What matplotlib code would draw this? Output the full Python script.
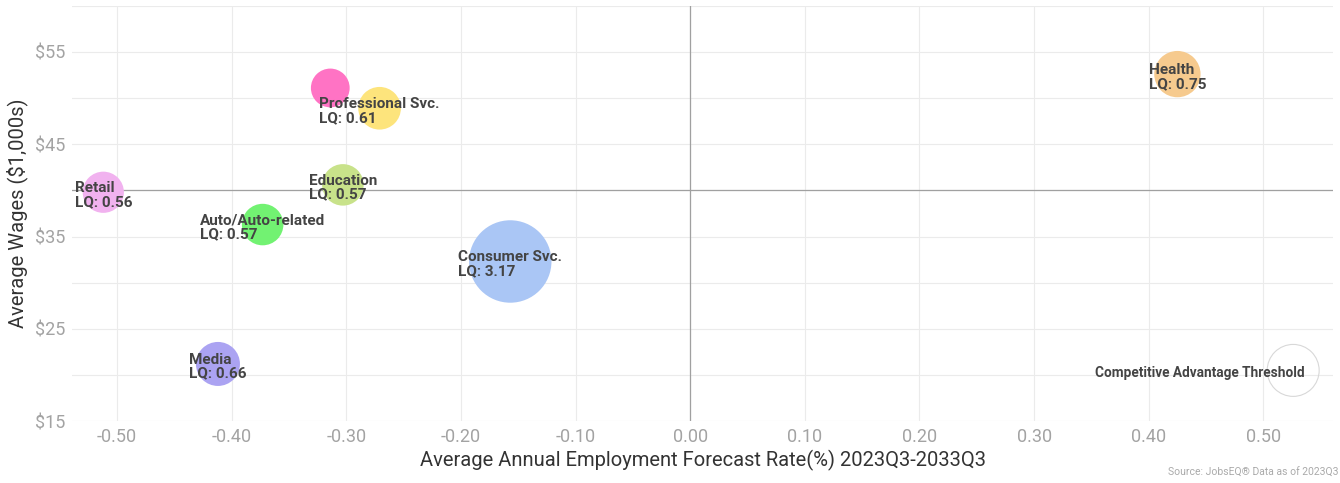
import numpy as np
import matplotlib
matplotlib.use("Agg")
import matplotlib.pyplot as plt

plt.rcParams['font.family'] = ['Roboto', 'DejaVu Sans']

# industries
names = ["", "Professional Svc.", "Education", "Retail", "Auto/Auto-related",
         "Consumer Svc.", "Media", "Health"]
forecast = [-0.314, -0.271, -0.303, -0.512, -0.373, -0.157, -0.412, 0.425]
wages = [51.1, 48.9, 40.6, 39.8, 36.3, 32.3, 21.2, 52.6]
lq = [0.48, 0.61, 0.57, 0.56, 0.57, 3.17, 0.66, 0.75]
colors = ["#ff73c4", "#fde47c", "#c8e28a", "#f1b2ef", "#72f272",
          "#aac6f5", "#aba3f2", "#f6ca8e"]

# threshold bubble (LQ = 1)
thr_x, thr_y, thr_lq = 0.526, 20.5, 1.0
thr_label = "Competitive Advantage Threshold"

xticks = [-0.5, -0.4, -0.3, -0.2, -0.1, 0.0, 0.1, 0.2, 0.3, 0.4, 0.5]
yticks = [15, 25, 35, 45, 55]

def bubble_size(v):
    return 1400 * np.power(v, 0.8)

fig = plt.figure(figsize=(13.4, 4.83), dpi=100)
ax = fig.add_axes([0.054, 0.128, 0.941, 0.86])

ax.set_xlim(-0.539, 0.561)
ax.set_ylim(15, 60)

ax.set_xticks(xticks)
ax.set_xticklabels([f"{t:.2f}" for t in xticks])
ax.set_yticks(yticks)
ax.set_yticklabels([f"${t}" for t in yticks])
ax.set_yticks(np.arange(15, 61, 5), minor=True)
ax.grid(True, which="both", color="#ebebeb", linewidth=0.8)
ax.set_axisbelow(True)
ax.tick_params(which="both", length=0, labelsize=13, labelcolor="#a3a3a3", pad=5)
for s in ax.spines.values():
    s.set_visible(False)

ax.axhline(40, color="#a0a0a0", linewidth=0.9, zorder=1)
ax.axvline(0, color="#a0a0a0", linewidth=0.9, zorder=1)

ax.scatter(forecast, wages, s=bubble_size(np.array(lq)), c=colors,
           linewidths=0, zorder=2)
ax.scatter([thr_x], [thr_y], s=bubble_size(thr_lq), facecolors="none",
           edgecolors="#d8d8d8", linewidths=0.8, zorder=2)

for n, x, y, v in zip(names, forecast, wages, lq):
    if not n:
        continue
    ax.annotate(f"{n}\nLQ: {v:.2f}", (x, y), xytext=(0, -2),
                textcoords="offset points", ha="center", va="center",
                multialignment="left", fontsize=11, fontweight="bold",
                color="#444444", linespacing=1.0, zorder=3)

ax.annotate(thr_label, (thr_x, thr_y), xytext=(8, -2), textcoords="offset points",
            ha="right", va="center", fontsize=9.8, fontweight="bold",
            color="#444444", zorder=3)

ax.set_xlabel("Average Annual Employment Forecast Rate(%) 2023Q3-2033Q3",
              fontsize=14.5, color="#333333", labelpad=3)
ax.set_ylabel("Average Wages ($1,000s)", fontsize=14.5, color="#333333", labelpad=5)

fig.text(0.999, 0.01, "Source: JobsEQ\u00ae Data as of 2023Q3", ha="right",
         va="bottom", fontsize=7.5, color="#aaaaaa")

fig.savefig("out.png", dpi=100)
